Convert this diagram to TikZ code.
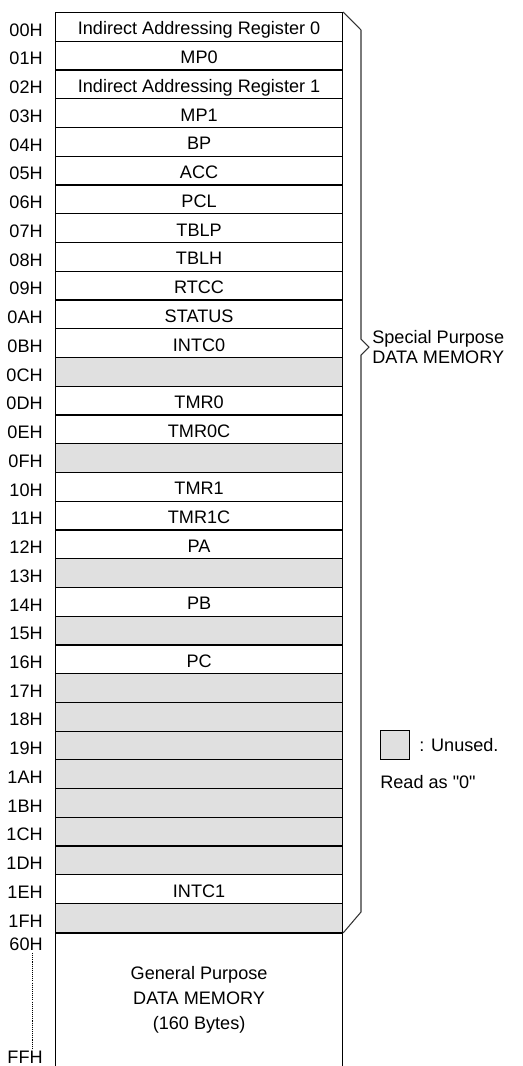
\documentclass[tikz,border=0pt]{standalone}
\usepackage{fontspec}
\setmainfont{Liberation Sans}[Ligatures=TeXOff]
\usetikzlibrary{positioning}
\definecolor{gapgray}{HTML}{E0E0E0}

\begin{document}
\begin{tikzpicture}[x=0.02cm, y=-0.02cm, font=\fontsize{10.3}{11.9}\selectfont,
  regcell/.style={draw, line width=0.7pt, minimum width=5.74cm, minimum height=0.5748cm,
    inner sep=0pt, text height=0.9em, text depth=0pt, anchor=north west},
  gapcell/.style={regcell, fill=gapgray},
  addr/.style={inner sep=0pt}]

  % positions in pixels of the 522x1066 sheet
  \def\xLeft{55}
  \def\yTop{12}
  \def\rowh{28.74}

  \useasboundingbox (0,0) rectangle (522,1066);

  % Register rows with their addresses
  \foreach \i/\ad/\nm/\sty in {0/00H/Indirect Addressing Register 0/regcell,
      1/01H/MP0/regcell, 2/02H/Indirect Addressing Register 1/regcell,
      3/03H/MP1/regcell, 4/04H/BP/regcell, 5/05H/ACC/regcell,
      6/06H/PCL/regcell, 7/07H/TBLP/regcell, 8/08H/TBLH/regcell,
      9/09H/RTCC/regcell, 10/0AH/STATUS/regcell, 11/0BH/INTC0/regcell,
      12/0CH//gapcell, 13/0DH/TMR0/regcell, 14/0EH/TMR0C/regcell,
      15/0FH//gapcell, 16/10H/TMR1/regcell, 17/11H/TMR1C/regcell,
      18/12H/PA/regcell, 19/13H//gapcell, 20/14H/PB/regcell,
      21/15H//gapcell, 22/16H/PC/regcell, 23/17H//gapcell,
      24/18H//gapcell, 25/19H//gapcell, 26/1AH//gapcell,
      27/1BH//gapcell, 28/1CH//gapcell, 29/1DH//gapcell,
      30/1EH/INTC1/regcell, 31/1FH//gapcell}
  {
    \node[\sty] (r\i) at (\xLeft, \yTop+\rowh*\i) {\nm};
    \node[addr, left=0.24cm of r\i, yshift=-0.06cm] (a\i) {\ad};
  }

  % General purpose area
  \node[draw, line width=0.7pt, minimum width=5.74cm, minimum height=2.666cm,
        inner sep=0pt, anchor=north west, align=center,
        font=\fontsize{10.3}{14.2}\selectfont] (gp) at (r31.south west)
        {General Purpose\\DATA MEMORY\\(160 Bytes)};
  \node[addr, anchor=east] (a60) at (43, 944) {60H};
  \node[addr, anchor=east] (aFF) at (43, 1057) {FFH};
  \coordinate (dtop) at (32, 953);
  \coordinate (dbot) at (32, 1048);
  \draw[line width=0.4pt, dash pattern=on 0.6pt off 0.6pt] (dtop) -- (dbot);

  % Brace for the special purpose part
  \draw[line width=0.6pt, black!80] (r0.north east) -- (361, 30) -- (361, 339)
    -- (369, 347) -- (361, 355) -- (361, 912) -- (r31.south east);
  \node[anchor=west, align=center, inner sep=0pt] (spdm) at (372, 347)
        {Special Purpose\\DATA MEMORY};

  % Legend
  \node[draw, line width=0.6pt, fill=gapgray, minimum size=0.58cm, inner sep=0pt,
        anchor=north west] (key) at (380, 730) {};
  \node[addr, right=0.18cm of key] (keytxt) {: Unused.};
  \node[addr, anchor=west] (readas) at (380, 782) {Read as "0"};

\end{tikzpicture}
\end{document}
